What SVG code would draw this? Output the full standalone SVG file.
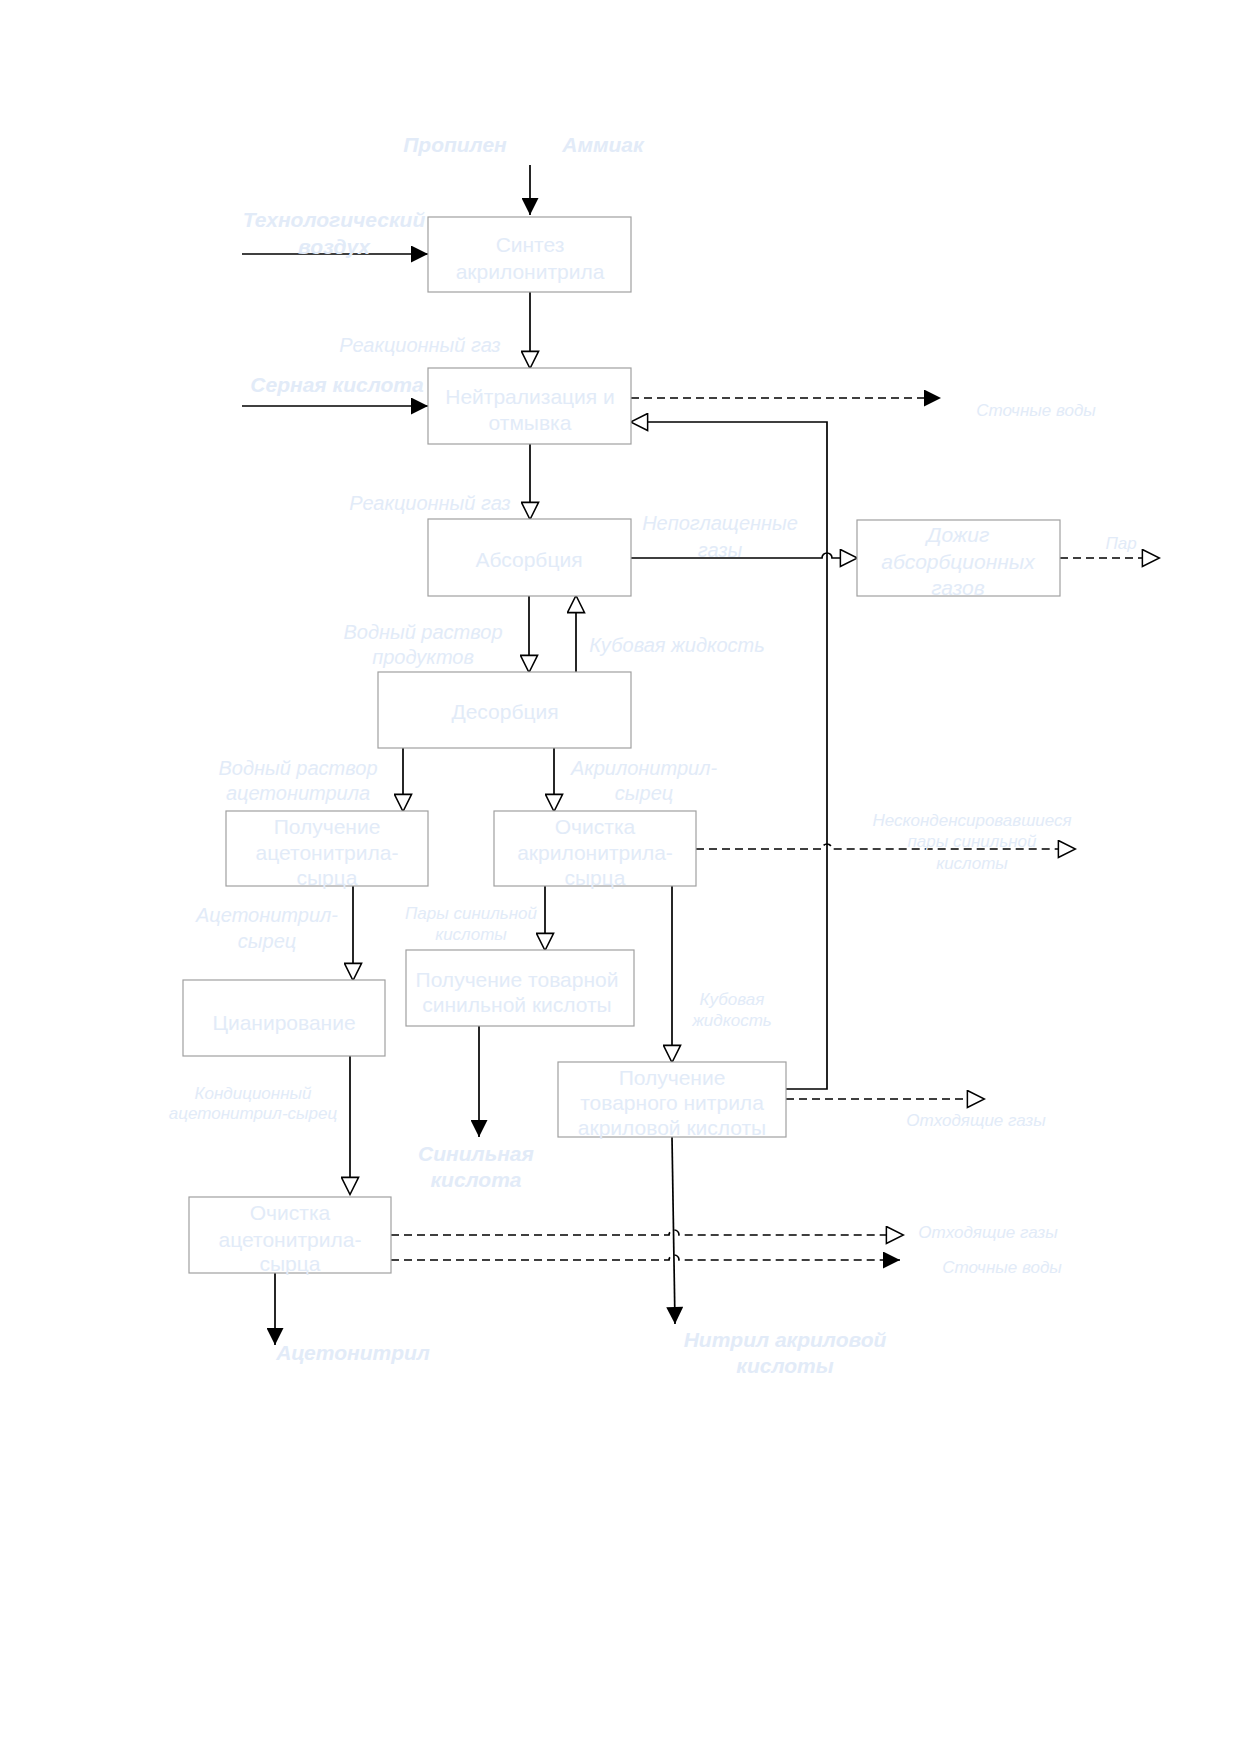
<svg xmlns="http://www.w3.org/2000/svg" width="1240" height="1754" viewBox="0 0 1240 1754">
<style>
.box{fill:#ffffff;stroke:#a0a0a0;stroke-width:1.2}
.nt{font-family:"Liberation Sans",Arial,sans-serif;font-size:21px;fill:#e2ebf8;text-anchor:middle}
.ni{font-style:italic}
.lb{font-family:"Liberation Sans",Arial,sans-serif;font-size:21px;font-weight:bold;font-style:italic;fill:#e2ebf8;text-anchor:middle}
.li{font-family:"Liberation Sans",Arial,sans-serif;font-size:20px;font-style:italic;fill:#e2ebf8;text-anchor:middle}
.ls{font-family:"Liberation Sans",Arial,sans-serif;font-size:17px;font-style:italic;fill:#e2ebf8;text-anchor:middle}
.ln{fill:none;stroke:#000;stroke-width:1.7}
.ds{fill:none;stroke:#000;stroke-width:1.7;stroke-dasharray:8 5}
</style>
<defs>
<marker id="af" viewBox="0 0 18 18" refX="18" refY="9" markerWidth="18" markerHeight="17" orient="auto" markerUnits="userSpaceOnUse">
<path d="M0,0 L18,9 L0,18 z" fill="#000"/>
</marker>
<marker id="ao" viewBox="-1 -1 20 20" refX="17.5" refY="9" markerWidth="20" markerHeight="19" orient="auto" markerUnits="userSpaceOnUse">
<path d="M0,0 L18,9 L0,18 z" fill="#fff" stroke="#000" stroke-width="1.6"/>
</marker>
</defs>
<rect width="1240" height="1754" fill="#fff"/>

<g id="connectors">
<path class="ln" d="M530,165 V215" marker-end="url(#af)"/>
<path class="ln" d="M242,254 H428" marker-end="url(#af)"/>
<path class="ln" d="M530,292 V368" marker-end="url(#ao)"/>
<path class="ln" d="M242,406 H428" marker-end="url(#af)"/>
<path class="ds" d="M631,398 H941" marker-end="url(#af)"/>
<path class="ln" d="M786,1089 H827 V422 H631" marker-end="url(#ao)"/>
<path class="ln" d="M530,444 V519" marker-end="url(#ao)"/>
<path class="ln" d="M631,558 H822 A5,5 0 0 1 832,558 H857" marker-end="url(#ao)"/>
<path class="ds" d="M1060,558 H1159" marker-end="url(#ao)"/>
<path class="ln" d="M529,596 V672" marker-end="url(#ao)"/>
<path class="ln" d="M576,672 V596" marker-end="url(#ao)"/>
<path class="ln" d="M403,748 V811" marker-end="url(#ao)"/>
<path class="ln" d="M554,748 V811" marker-end="url(#ao)"/>
<path class="ds" d="M696,849 H822 A5,5 0 0 1 832,849 H1075" marker-end="url(#ao)"/>
<path class="ln" d="M353,886 V980" marker-end="url(#ao)"/>
<path class="ln" d="M545,886 V950" marker-end="url(#ao)"/>
<path class="ln" d="M672,886 V1062" marker-end="url(#ao)"/>
<path class="ln" d="M479,1026 V1137" marker-end="url(#af)"/>
<path class="ln" d="M350,1056 V1194" marker-end="url(#ao)"/>
<path class="ds" d="M786,1099 H984" marker-end="url(#ao)"/>
<path class="ln" d="M672,1137 L675,1324" marker-end="url(#af)"/>
<path class="ln" d="M275,1273 V1345" marker-end="url(#af)"/>
<path class="ds" d="M391,1235 H669 A5,5 0 0 1 679,1235 H903" marker-end="url(#ao)"/>
<path class="ds" d="M391,1260 H669 A5,5 0 0 1 679,1260 H900" marker-end="url(#af)"/>
</g>

<g id="n-sintez"><rect class="box" x="428" y="217" width="203" height="75"/>
<text class="nt" x="530" y="252">Синтез</text><text class="nt" x="530" y="279">акрилонитрила</text></g>
<g id="n-neutr"><rect class="box" x="428" y="368" width="203" height="76"/>
<text class="nt" x="530" y="404">Нейтрализация и</text><text class="nt" x="530" y="430">отмывка</text></g>
<g id="n-absorb"><rect class="box" x="428" y="519" width="203" height="77"/>
<text class="nt" x="529" y="567">Абсорбция</text></g>
<g id="n-dozhig"><rect class="box" x="857" y="520" width="203" height="76"/>
<text class="nt ni" x="958" y="542">Дожиг</text><text class="nt ni" x="958" y="569">абсорбционных</text><text class="nt ni" x="958" y="595">газов</text></g>
<g id="n-desorb"><rect class="box" x="378" y="672" width="253" height="76"/>
<text class="nt" x="505" y="719">Десорбция</text></g>
<g id="n-poluch-aceto"><rect class="box" x="226" y="811" width="202" height="75"/>
<text class="nt" x="327" y="834">Получение</text><text class="nt" x="327" y="860">ацетонитрила-</text><text class="nt" x="327" y="885">сырца</text></g>
<g id="n-ochist-akril"><rect class="box" x="494" y="811" width="202" height="75"/>
<text class="nt" x="595" y="834">Очистка</text><text class="nt" x="595" y="860">акрилонитрила-</text><text class="nt" x="595" y="885">сырца</text></g>
<g id="n-cian"><rect class="box" x="183" y="980" width="202" height="76"/>
<text class="nt" x="284" y="1030">Цианирование</text></g>
<g id="n-sinil"><rect class="box" x="406" y="950" width="228" height="76"/>
<text class="nt" x="517" y="987">Получение товарной</text><text class="nt" x="517" y="1012">синильной кислоты</text></g>
<g id="n-nitril"><rect class="box" x="558" y="1062" width="228" height="75"/>
<text class="nt" x="672" y="1085">Получение</text><text class="nt" x="672" y="1110">товарного нитрила</text><text class="nt" x="672" y="1135">акриловой кислоты</text></g>
<g id="n-ochist-aceto"><rect class="box" x="189" y="1197" width="202" height="76"/>
<text class="nt" x="290" y="1220">Очистка</text><text class="nt" x="290" y="1247">ацетонитрила-</text><text class="nt" x="290" y="1271">сырца</text></g>

<g id="labels">
<text class="lb" x="455" y="152">Пропилен</text>
<text class="lb" x="603" y="152">Аммиак</text>
<text class="lb" x="334" y="227">Технологический</text>
<text class="lb" x="334" y="254">воздух</text>
<text class="li" x="420" y="352">Реакционный газ</text>
<text class="lb" x="337" y="392">Серная кислота</text>
<text class="ls" x="1036" y="416">Сточные воды</text>
<text class="li" x="720" y="530">Непоглащенные</text>
<text class="li" x="720" y="557">газы</text>
<text class="ls" x="1121" y="549">Пар</text>
<text class="li" x="430" y="510">Реакционный газ</text>
<text class="li" x="423" y="639">Водный раствор</text>
<text class="li" x="423" y="664">продуктов</text>
<text class="li" x="677" y="652">Кубовая жидкость</text>
<text class="li" x="298" y="775">Водный раствор</text>
<text class="li" x="298" y="800">ацетонитрила</text>
<text class="li" x="644" y="775">Акрилонитрил-</text>
<text class="li" x="644" y="800">сырец</text>
<text class="ls" x="972" y="826">Несконденсировавшиеся</text>
<text class="ls" x="972" y="847">пары синильной</text>
<text class="ls" x="972" y="869">кислоты</text>
<text class="li" x="267" y="922">Ацетонитрил-</text>
<text class="li" x="267" y="948">сырец</text>
<text class="ls" x="471" y="919">Пары синильной</text>
<text class="ls" x="471" y="940">кислоты</text>
<text class="ls" x="732" y="1005">Кубовая</text>
<text class="ls" x="732" y="1026">жидкость</text>
<text class="ls" x="976" y="1126">Отходящие газы</text>
<text class="ls" x="253" y="1099">Кондиционный</text>
<text class="ls" x="253" y="1119">ацетонитрил-сырец</text>
<text class="lb" x="476" y="1161">Синильная</text>
<text class="lb" x="476" y="1187">кислота</text>
<text class="ls" x="988" y="1238">Отходящие газы</text>
<text class="ls" x="1002" y="1273">Сточные воды</text>
<text class="lb" x="353" y="1360">Ацетонитрил</text>
<text class="lb" x="785" y="1347">Нитрил акриловой</text>
<text class="lb" x="785" y="1373">кислоты</text>
</g>
</svg>
